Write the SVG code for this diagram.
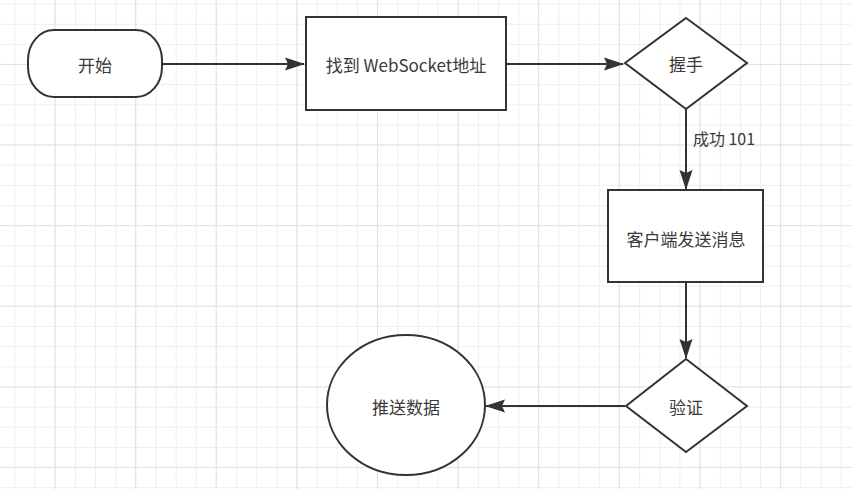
<svg xmlns="http://www.w3.org/2000/svg" width="852" height="489" viewBox="0 0 852 489">
<defs>
<pattern id="minor" patternUnits="userSpaceOnUse" x="14.5" y="3.6" width="20.15" height="20.15">
<rect x="0" y="0" width="1" height="20.15" fill="#eeeeee"/>
<rect x="0" y="0" width="20.15" height="1" fill="#eeeeee"/>
</pattern>
<pattern id="major" patternUnits="userSpaceOnUse" x="-26.1" y="-16.7" width="80.6" height="80.6">
<rect x="0" y="0" width="1" height="80.6" fill="#e2e2e2"/>
<rect x="0" y="0" width="80.6" height="1" fill="#e2e2e2"/>
</pattern>
<marker id="arrow" viewBox="0 0 20 14" refX="19" refY="7" markerWidth="20" markerHeight="14" markerUnits="userSpaceOnUse" orient="auto">
<path d="M0 0.5 L20 7 L0 13.5 L3 7 Z" fill="#333333"/>
</marker>
</defs>
<style>
.shape{fill:#ffffff;stroke:#333333;stroke-width:2}
.edge{fill:none;stroke:#333333;stroke-width:2;marker-end:url(#arrow)}
.label{font-family:"Noto Sans CJK SC","Noto Sans",sans-serif;font-size:17px;fill:#3a3a3a;text-anchor:middle;dominant-baseline:central}
</style>
<rect width="852" height="489" fill="#ffffff"/>
<rect width="852" height="489" fill="url(#minor)"/>
<rect width="852" height="489" fill="url(#major)"/>
<g id="connectors">
<line class="edge" x1="163" y1="64" x2="304" y2="64"/>
<line class="edge" x1="507" y1="64" x2="623" y2="64"/>
<line class="edge" x1="686" y1="109" x2="686" y2="189"/>
<text class="label" x="724" y="138" style="font-size:16px">成功 101</text>
<line class="edge" x1="686" y1="283" x2="686" y2="358"/>
<line class="edge" x1="625" y1="406" x2="486" y2="406"/>
</g>
<g id="start">
<rect class="shape" x="28" y="30" width="134" height="67" rx="26" ry="30"/>
<text class="label" x="95" y="64">开始</text>
</g>
<g id="find">
<rect class="shape" x="306" y="17" width="200" height="93"/>
<text class="label" x="406" y="64">找到 WebSocket地址</text>
</g>
<g id="handshake">
<polygon class="shape" points="686,18 747,63 686,109 625,63"/>
<text class="label" x="686" y="63">握手</text>
</g>
<g id="send">
<rect class="shape" x="608" y="190" width="155" height="92"/>
<text class="label" x="686" y="238">客户端发送消息</text>
</g>
<g id="verify">
<polygon class="shape" points="686,359 747,406 686,452 626,406"/>
<text class="label" x="686" y="406">验证</text>
</g>
<g id="push">
<ellipse class="shape" cx="406" cy="405" rx="79" ry="70"/>
<text class="label" x="406" y="406">推送数据</text>
</g>
</svg>
